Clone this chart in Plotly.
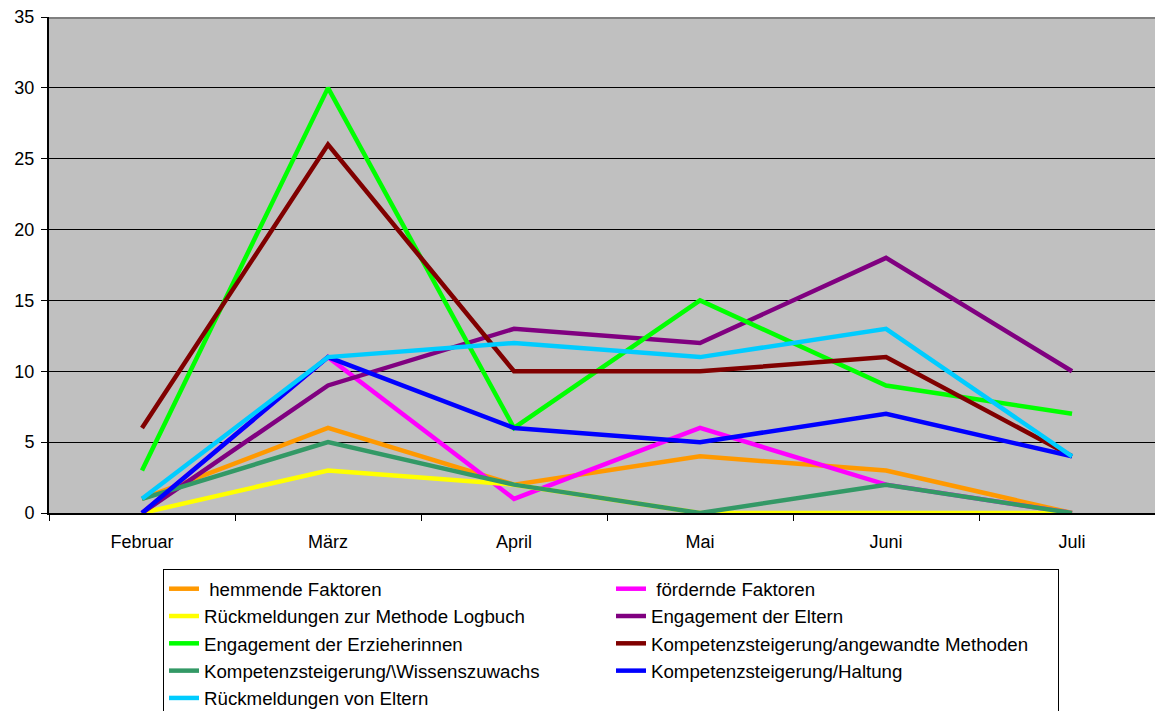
import plotly.graph_objects as go

months = ["Februar", "März", "April", "Mai", "Juni", "Juli"]

hemmende = [1, 6, 2, 4, 3, 0]
foerdernde = [0, 11, 1, 6, 2, 0]
logbuch = [0, 3, 2, 0, 0, 0]
eltern_engagement = [0, 9, 13, 12, 18, 10]
erzieherinnen = [3, 30, 6, 15, 9, 7]
methoden = [6, 26, 10, 10, 11, 4]
wissen = [1, 5, 2, 0, 2, 0]
haltung = [0, 11, 6, 5, 7, 4]
eltern_rueck = [1, 11, 12, 11, 13, 4]

series = [
    ("\u00a0hemmende Faktoren", hemmende, "#FF9900"),
    ("\u00a0fördernde Faktoren", foerdernde, "#FF00FF"),
    ("Rückmeldungen zur Methode Logbuch", logbuch, "#FFFF00"),
    ("Engagement der Eltern", eltern_engagement, "#800080"),
    ("Engagement der Erzieherinnen", erzieherinnen, "#00FF00"),
    ("Kompetenzsteigerung/angewandte Methoden", methoden, "#800000"),
    ("Kompetenzsteigerung/\\Wissenszuwachs", wissen, "#339966"),
    ("Kompetenzsteigerung/Haltung", haltung, "#0000FF"),
    ("Rückmeldungen von Eltern", eltern_rueck, "#00CCFF"),
]

fig = go.Figure()
for name, vals, col in series:
    fig.add_trace(go.Scatter(
        x=months, y=vals, name=name, mode="lines",
        line=dict(color=col, width=4.5),
    ))

# dunkler Rand oben
fig.add_shape(type="line", xref="paper", yref="y", x0=0, x1=1, y0=35, y1=35,
              line=dict(color="#808080", width=4), layer="above")

# Seite hat 8px body-Rand, daher Ränder um 8px kleiner
fig.update_layout(
    width=1163, height=711,
    margin=dict(l=41, r=0, t=9, b=206, autoexpand=False),
    paper_bgcolor="white",
    plot_bgcolor="#C0C0C0",
    font=dict(family="Liberation Sans, Arial", size=18, color="black"),
    showlegend=True,
    legend=dict(
        orientation="h",
        x=0.1016, xanchor="left",
        y=-0.113, yanchor="top",
        bgcolor="white",
        bordercolor="black", borderwidth=1,
        entrywidth=402, entrywidthmode="pixels",
        font=dict(size=18.7),
        traceorder="normal",
    ),
    xaxis=dict(
        type="category",
        range=[-0.5, 5.532],
        tickson="boundaries",
        ticks="outside", ticklen=6, tickcolor="black",
        showline=True, linecolor="black", linewidth=2,
        showgrid=False,
        ticklabelstandoff=11,
    ),
    yaxis=dict(
        range=[0, 35],
        dtick=5,
        ticks="outside", ticklen=6, tickcolor="black",
        showline=True, linecolor="black", linewidth=2,
        showgrid=True, gridcolor="black", gridwidth=1,
        zeroline=False,
        ticklabelstandoff=3,
        ticklabeloverflow="allow",
    ),
)

fig.write_html("out.html")
